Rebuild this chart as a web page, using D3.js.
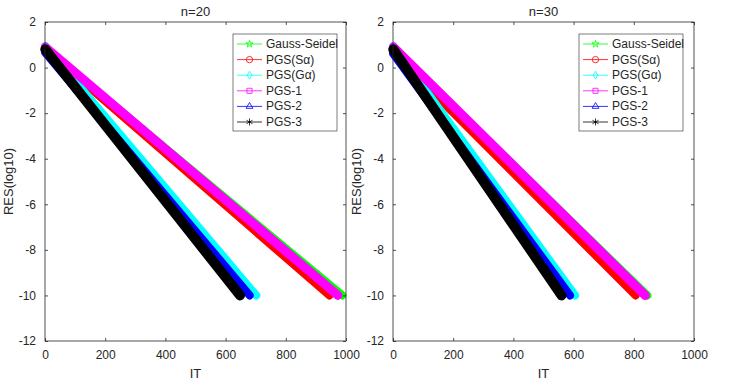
<!DOCTYPE html>
<html>
<head>
<meta charset="utf-8">
<script src="https://cdn.jsdelivr.net/npm/d3@7"></script>
<style>
  body { margin: 0; background: #fff; }
  svg { display: block; font-family: "Liberation Sans", Arial, Helvetica, sans-serif; }
</style>
</head>
<body>
<div id="app"></div>
<script>
// series names (legend order)
const seriesNames = ['Gauss-Seidel', 'PGS(Sα)', 'PGS(Gα)', 'PGS-1', 'PGS-2', 'PGS-3'];
const seriesColors = ['#00ff00', '#ff0000', '#00ffff', '#ff00ff', '#0000ff', '#000000'];

// panel titles
const panelTitles = ['n=20', 'n=30'];

// first iteration / residual at first iteration / last iteration / residual at end
const itStart = 1;
const resStartN20 = [0.85, 0.8, 0.95, 0.9, 0.65, 0.8];
const itEndN20 = [988, 945, 702, 973, 680, 648];
const resStartN30 = [0.85, 0.65, 0.95, 0.9, 0.6, 0.8];
const itEndN30 = [845, 806, 605, 838, 588, 560];
const resEnd = -10;

// axes ticks
const xTicks = [0, 200, 400, 600, 800, 1000];
const yTicks = [2, 0, -2, -4, -6, -8, -10, -12];

const panels = [
  { title: panelTitles[0], start: resStartN20, end: itEndN20 },
  { title: panelTitles[1], start: resStartN30, end: itEndN30 }
];

const wrapper = { width: 742, height: 386 };
const axesPos = [{ left: 45, top: 22 }, { left: 393, top: 22 }];
const bounds = { width: 301, height: 319 };

// markers drawn at every iteration make a thick band -> wide stroke
const bandWidth = [8, 8, 8, 9, 8, 10];
const symbols = [d3.symbolStar, d3.symbolCircle, d3.symbolDiamond, d3.symbolSquare, d3.symbolTriangle, d3.symbolAsterisk];
const symbolSize = [16, 32, 18, 26, 20, 34];

const svg = d3.select('#app')
  .append('svg')
    .attr('width', wrapper.width)
    .attr('height', wrapper.height);

const axisColor = '#262626';

panels.forEach((p, pi) => {
  const g = svg.append('g')
    .attr('transform', `translate(${axesPos[pi].left}, ${axesPos[pi].top})`);

  const x = d3.scaleLinear().domain([0, 1000]).range([0, bounds.width]);
  const y = d3.scaleLinear().domain([-12, 2]).range([bounds.height, 0]);

  const series = seriesNames.map((name, i) => ({
    name,
    color: seriesColors[i],
    width: bandWidth[i],
    points: [[itStart, p.start[i]], [p.end[i], resEnd]]
  }));

  const line = d3.line().x(d => x(d[0])).y(d => y(d[1]));

  g.selectAll('path.band')
    .data(series)
    .join('path')
      .attr('class', 'band')
      .attr('d', d => line(d.points))
      .attr('fill', 'none')
      .attr('stroke', d => d.color)
      .attr('stroke-width', d => d.width)
      .attr('stroke-linecap', 'round')
      .attr('stroke-linejoin', 'round');

  // box
  g.append('rect')
    .attr('x', 0).attr('y', 0)
    .attr('width', bounds.width).attr('height', bounds.height)
    .attr('fill', 'none')
    .attr('stroke', axisColor)
    .attr('stroke-width', 0.8);

  // axes, ticks pointing inwards on all four sides
  const fmt = d3.format('d');
  const xAxis = g.append('g')
    .attr('transform', `translate(0, ${bounds.height})`)
    .call(d3.axisBottom(x).tickValues(xTicks).tickSizeInner(-3).tickSizeOuter(0).tickPadding(9).tickFormat(fmt));
  const xTop = g.append('g')
    .call(d3.axisTop(x).tickValues(xTicks).tickSizeInner(-3).tickSizeOuter(0).tickFormat(''));
  const yAxis = g.append('g')
    .call(d3.axisLeft(y).tickValues(yTicks).tickSizeInner(-3).tickSizeOuter(0).tickPadding(9)
      .tickFormat(d => d < 0 ? '-' + Math.abs(d) : d));
  const yRight = g.append('g')
    .attr('transform', `translate(${bounds.width}, 0)`)
    .call(d3.axisRight(y).tickValues(yTicks).tickSizeInner(-3).tickSizeOuter(0).tickFormat(''));

  [xAxis, xTop, yAxis, yRight].forEach(a => {
    a.select('.domain').remove();
    a.selectAll('line').attr('stroke', axisColor).attr('stroke-width', 0.8);
    a.selectAll('text').attr('fill', axisColor).style('font-size', '12px')
      .style('font-family', '"Liberation Sans", Arial, sans-serif');
  });

  // title & labels
  g.append('text')
    .attr('x', bounds.width / 2).attr('y', -6)
    .attr('text-anchor', 'middle')
    .attr('fill', axisColor)
    .style('font-size', '13px')
    .text(p.title);

  g.append('text')
    .attr('x', bounds.width / 2).attr('y', bounds.height + 37)
    .attr('text-anchor', 'middle')
    .attr('fill', axisColor)
    .style('font-size', '13px')
    .text('IT');

  g.append('text')
    .attr('transform', `translate(-32, ${bounds.height / 2}) rotate(-90)`)
    .attr('text-anchor', 'middle')
    .attr('fill', axisColor)
    .style('font-size', '13px')
    .text('RES(log10)');

  // legend
  const lg = g.append('g').attr('transform', `translate(${188 - (pi === 1 ? 2 : 0)}, 12)`);
  const lgW = 104, lgH = 97, rowH = 15.6;
  lg.append('rect')
    .attr('width', lgW).attr('height', lgH)
    .attr('fill', '#fff')
    .attr('stroke', axisColor)
    .attr('stroke-width', 0.6);

  const rows = lg.selectAll('g.row')
    .data(series)
    .join('g')
      .attr('class', 'row')
      .attr('transform', (d, i) => `translate(0, ${10 + i * rowH})`);

  rows.append('line')
    .attr('x1', 4).attr('x2', 29)
    .attr('y1', 0).attr('y2', 0)
    .attr('stroke', d => d.color)
    .attr('stroke-width', 0.8);

  rows.append('path')
    .attr('transform', 'translate(16.5, 0)')
    .attr('d', (d, i) => d3.symbol().type(symbols[i]).size(symbolSize[i])())
    .attr('fill', 'none')
    .attr('stroke', d => d.color)
    .attr('stroke-width', 0.8);

  rows.append('text')
    .attr('x', 33).attr('y', 4)
    .attr('fill', axisColor)
    .style('font-size', '12px')
    .text(d => d.name);
});
</script>
</body>
</html>
